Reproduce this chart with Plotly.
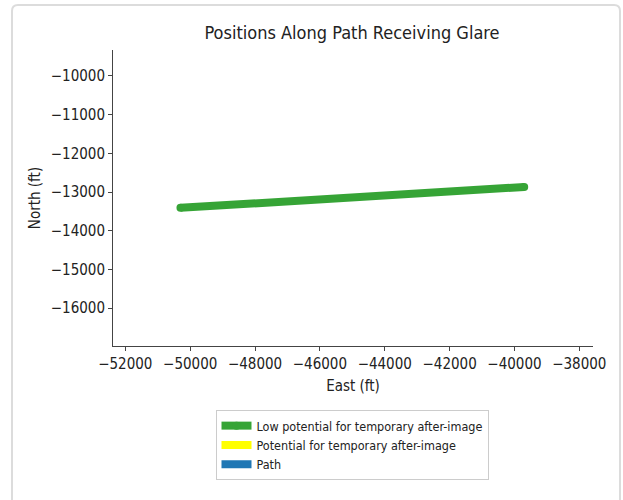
import plotly.graph_objects as go

# Data
east_ft = [-50300, -39700]
north_ft = [-13410, -12870]

x_ticks = [-52000, -50000, -48000, -46000, -44000, -42000, -40000, -38000]
y_ticks = [-16000, -15000, -14000, -13000, -12000, -11000, -10000]

series_names = ["Low potential for temporary after-image",
                "Potential for temporary after-image",
                "Path"]
series_colors = ["#2ca02c", "#ffff00", "#1f77b4"]

FONT = "DejaVu Sans Condensed, DejaVu Sans, sans-serif"
W, H = 623, 500
L, R, T, B = 113, 30, 50, 154
pw, ph = W - L - R, H - T - B

def px(xp):
    return (xp - L) / pw

def py(yp):
    return (H - B - yp) / ph

fig = go.Figure()
fig.add_trace(go.Scatter(
    x=east_ft, y=north_ft, mode="lines+markers",
    line=dict(color=series_colors[0], width=8),
    marker=dict(color=series_colors[0], size=8),
    name=series_names[0], opacity=0.95,
))
for nm, col in zip(series_names[1:], series_colors[1:]):
    fig.add_trace(go.Scatter(x=[None], y=[None], mode="lines",
                             line=dict(color=col, width=8), name=nm))

# card border
x0, x1, y0, y1 = px(12), px(620), py(510), py(5)
rx, ry = 6 / pw, 6 / ph
path = (f"M {x0},{y0} L {x0},{y1-ry} Q {x0},{y1} {x0+rx},{y1} "
        f"L {x1-rx},{y1} Q {x1},{y1} {x1},{y1-ry} L {x1},{y0}")
fig.add_shape(type="path", path=path, xref="paper", yref="paper",
              line=dict(color="#dcdcdc", width=2), layer="below")

fig.update_layout(
    width=W, height=H,
    margin=dict(l=L, r=R, t=T, b=B),
    paper_bgcolor="white", plot_bgcolor="white",
    font=dict(family=FONT, color="#222", size=15),
    title=dict(text="Positions Along Path Receiving Glare",
               xref="paper", x=px(352), xanchor="center",
               yref="container", y=1 - 33 / H, yanchor="middle",
               font=dict(size=18, family=FONT, color="#222")),
    xaxis=dict(range=[-52380, -37578], tickvals=x_ticks,
               ticktext=[f"\u2212{abs(v)}" for v in x_ticks],
               showgrid=False, zeroline=False, showline=True,
               linecolor="#444", linewidth=1, ticks="outside", ticklen=4,
               tickcolor="#444", tickfont=dict(size=15),
               title=dict(text="East (ft)", font=dict(size=15), standoff=8)),
    yaxis=dict(range=[-16982, -9328], tickvals=y_ticks,
               ticktext=[f"\u2212{abs(v)}" for v in y_ticks],
               showgrid=False, zeroline=False, showline=True,
               linecolor="#444", linewidth=1, ticks="outside", ticklen=4,
               tickcolor="#444", tickfont=dict(size=15),
               title=dict(text="North (ft)", font=dict(size=15), standoff=6)),
    legend=dict(x=px(352), xanchor="center", y=py(410), yanchor="top",
                bgcolor="white", bordercolor="#cccccc", borderwidth=1,
                font=dict(size=12.5, family=FONT), tracegroupgap=0,
                itemwidth=30),
    showlegend=True,
)

fig.write_html("out.html",
               config={"displayModeBar": False},
               post_script="document.body.style.margin='0';"
                           "document.body.style.overflow='hidden';")
